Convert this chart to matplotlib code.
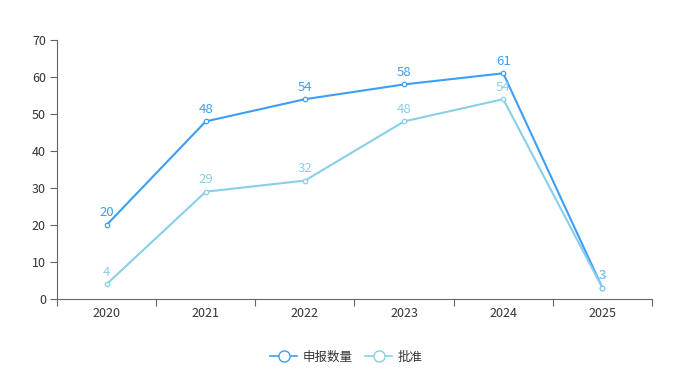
import matplotlib.pyplot as plt
from matplotlib.lines import Line2D

plt.rcParams['font.family'] = ['Noto Sans CJK SC', 'DejaVu Sans']

years = ['2020', '2021', '2022', '2023', '2024', '2025']
applied = [20, 48, 54, 58, 61, 3]
approved = [4, 29, 32, 48, 54, 3]

c_applied = '#3d9ef5'
c_approved = '#88cfea'

fig = plt.figure(figsize=(6.92, 3.71), dpi=100)
ax = fig.add_axes([57 / 692, 1 - 299 / 371, (652 - 57) / 692, (299 - 40) / 371])

x = list(range(len(years)))
for vals, col in [(applied, c_applied), (approved, c_approved)]:
    ax.plot(x, vals, color=col, lw=1.5, marker='o', ms=3.2,
            mfc='white', mec=col, mew=0.9, zorder=3)
    for xi, v in zip(x, vals):
        ax.annotate(str(v), (xi, v), xytext=(0, 4), textcoords='offset points',
                    ha='center', va='bottom', color=col, fontsize=9.5)

ax.set_xlim(-0.5, len(years) - 0.5)
ax.set_ylim(0, 70)
ax.set_yticks(range(0, 71, 10))
ax.set_xticks([i - 0.5 for i in range(len(years) + 1)])
ax.set_xticklabels([])
ax.set_xticks(x, minor=True)
ax.set_xticklabels(years, minor=True)
ax.tick_params(axis='x', which='major', length=5, color='#666666')
ax.tick_params(axis='x', which='minor', length=0, pad=6, labelsize=9, labelcolor='#333333')
ax.tick_params(axis='y', length=5, color='#666666', labelsize=9, labelcolor='#333333', pad=3)

for s in ['top', 'right']:
    ax.spines[s].set_visible(False)
for s in ['left', 'bottom']:
    ax.spines[s].set_color('#666666')

handles = [Line2D([], [], color=c_applied, lw=1.2, marker='o', ms=8, mfc='white', mec=c_applied),
           Line2D([], [], color=c_approved, lw=1.2, marker='o', ms=8, mfc='white', mec=c_approved)]
fig.legend(handles, ['申报数量', '批准'], loc='center', bbox_to_anchor=(0.5, 1 - 357 / 371),
           ncol=2, frameon=False, fontsize=9, handlelength=2.2, columnspacing=1.0,
           handletextpad=0.4, labelcolor='#333333')

fig.savefig('out.png', dpi=100)
